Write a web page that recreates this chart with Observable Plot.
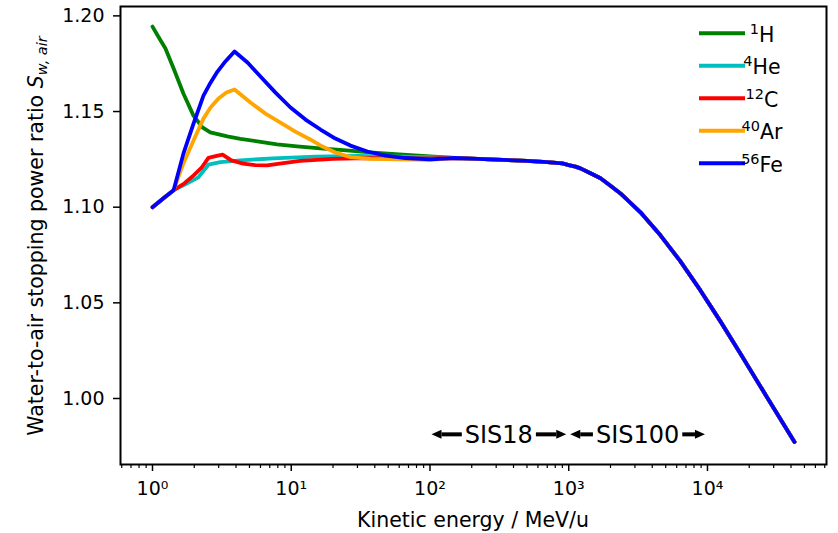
<!DOCTYPE html>
<html><head><meta charset="utf-8">
<script src="https://cdn.jsdelivr.net/npm/d3@7"></script>
<script src="https://cdn.jsdelivr.net/npm/@observablehq/plot@0.6"></script>
<style>body{margin:0;background:#fff} svg{display:block}</style>
</head><body><div id="chart"></div><script>
// ---- data ----
const ions = ["H", "He", "C", "Ar", "Fe"];
const massNumbers = ["1", "4", "12", "40", "56"];
const colors = ["#008000", "#00bfbf", "#ff0000", "#ffa500", "#0000ff"];

const E_H  = [1.0, 1.1, 1.24, 1.42, 1.67, 1.97, 2.29, 2.61, 3.46, 4.3, 5.7, 7.9, 11, 16.2, 25, 37, 60, 100];
const S_H  = [1.1944, 1.1892, 1.1829, 1.1725, 1.1594, 1.148, 1.1417, 1.1391, 1.137, 1.1357, 1.1344, 1.1328, 1.1318, 1.1307, 1.1297, 1.1286, 1.1276, 1.1265];
const E_He = [1, 1.2, 1.42, 1.78, 2.14, 2.53, 3.08, 4.3, 7.4, 15, 30, 100];
const S_He = [1.1, 1.1047, 1.1089, 1.1125, 1.1156, 1.1222, 1.1236, 1.1245, 1.1255, 1.1264, 1.1268, 1.1262];
const E_C  = [1, 1.2, 1.42, 1.7, 1.97, 2.25, 2.53, 2.9, 3.2, 3.7, 4.5, 5.5, 6.7, 8.5, 11.6, 20, 35, 100];
const S_C  = [1.1, 1.1047, 1.1089, 1.1125, 1.1165, 1.1205, 1.1258, 1.1268, 1.1275, 1.1245, 1.1228, 1.122, 1.1219, 1.1229, 1.1242, 1.1252, 1.1256, 1.1255];
const E_Ar = [1, 1.2, 1.42, 1.67, 1.975, 2.33, 2.62, 2.99, 3.41, 3.9, 5.08, 6.52, 8.36, 10.7, 13.7, 16.8, 20.8, 26.7, 37.2, 100];
const S_Ar = [1.100, 1.1047, 1.1089, 1.1229, 1.1349, 1.1463, 1.1521, 1.1568, 1.1599, 1.1615, 1.1547, 1.1489, 1.1442, 1.1395, 1.1354, 1.1317, 1.1286, 1.1262, 1.1252, 1.1248];
const E_Fe = [1, 1.2, 1.42, 1.67, 1.975, 2.33, 2.62, 2.94, 3.3, 3.9, 4.84, 6.0, 7.7, 9.88, 12.67, 16.25, 20.8, 26.7, 35.4, 47.8, 66.6, 100];
const S_Fe = [1.100, 1.1047, 1.1089, 1.128, 1.1437, 1.1583, 1.1651, 1.1709, 1.1756, 1.1814, 1.1756, 1.1683, 1.1599, 1.1521, 1.1458, 1.1406, 1.1359, 1.1322, 1.1291, 1.127, 1.1257, 1.1250];
// common high-energy part (all ions coincide)
const E_tail = [150, 200, 300, 500, 700, 900, 1000, 1118, 1215, 1435, 1694, 2000, 2360, 2787, 3289, 3882, 4583, 5410, 6386, 7538, 8898, 10500, 12400, 17300, 27000, 42400];
const S_tail = [1.1257, 1.1254, 1.1249, 1.1242, 1.1236, 1.1229, 1.1220, 1.1212, 1.1203, 1.1177, 1.1151, 1.1112, 1.1072, 1.1023, 1.0973, 1.0913, 1.0853, 1.0785, 1.0717, 1.0641, 1.0565, 1.0484, 1.0403, 1.0234, 1.0004, 0.9773];

const yTicks = [1.00, 1.05, 1.10, 1.15, 1.20];
const xMajor = [1, 10, 100, 1000, 10000];
const xMajorLabels = ["10⁰", "10¹", "10²", "10³", "10⁴"];
const xMinor = [];
for (let p = -1; p <= 4; p++) for (let m = 2; m <= 9; m++) { const v = m * Math.pow(10, p); if (v > 0.58 && v < 72000) xMinor.push(v); }

const ranges = ["SIS18", "SIS100"];
const rangeStart = [100, 1000];
const rangeEnd = [1000, 10000];
const rangeY = 0.981;

const lowE = [E_H, E_He, E_C, E_Ar, E_Fe];
const lowS = [S_H, S_He, S_C, S_Ar, S_Fe];
const series = ions.map((ion, i) => {
  const rows = lowE[i].map((e, j) => ({E: e, S: lowS[i][j], ion}));
  E_tail.forEach((e, j) => rows.push({E: e, S: S_tail[j], ion}));
  return rows;
});

const plot = Plot.plot({
  width: 838, height: 533,
  marginLeft: 120, marginRight: 12, marginTop: 6, marginBottom: 69,
  x: {type: "log", domain: [0.588, 72100]},
  y: {domain: [0.9655, 1.2049]},
  style: {fontFamily: "DejaVu Sans", background: "white", color: "black"},
  marks: [
    Plot.axisY({ticks: yTicks, tickFormat: d => d.toFixed(2), tickSize: 7, tickPadding: 9, fontSize: 19, label: null, strokeWidth: 1.5}),
    Plot.axisX({ticks: xMajor, tickFormat: d => xMajorLabels[xMajor.indexOf(d)], tickSize: 7, tickPadding: 10, fontSize: 19, label: null, strokeWidth: 1.5}),
    Plot.axisX({ticks: xMinor, tickFormat: () => "", tickSize: 4, label: null, strokeWidth: 1.2}),
    ...series.map((rows, i) => Plot.line(rows, {x: "E", y: "S", stroke: colors[i], strokeWidth: 3.8, strokeLinejoin: "round", strokeLinecap: "round"})),
    Plot.frame({stroke: "black", strokeWidth: 2})
  ]
});
document.getElementById("chart").append(plot);

const svg = d3.select(plot);
const xs = v => plot.scale("x").apply(v);
const ys = v => plot.scale("y").apply(v);

// axis labels
svg.append("text")
  .attr("x", 473).attr("y", 527).attr("text-anchor", "middle")
  .attr("font-size", 20.5).attr("font-family", "DejaVu Sans").attr("fill", "black")
  .text("Kinetic energy / MeV/u");
const yl = svg.append("text")
  .attr("transform", "translate(43,236) rotate(-90)").attr("text-anchor", "middle")
  .attr("font-size", 20.5).attr("font-family", "DejaVu Sans").attr("fill", "black");
yl.append("tspan").text("Water-to-air stopping power ratio ");
yl.append("tspan").attr("font-style", "italic").text("S");
yl.append("tspan").attr("font-style", "italic").attr("font-size", 14.5).attr("dy", 4).text("w, air");

// legend
const lg = svg.append("g").attr("font-family", "DejaVu Sans").attr("fill", "black");
ions.forEach((ion, i) => {
  const y = 33.3 + i * 32.5;
  lg.append("line").attr("x1", 699).attr("x2", 745).attr("y1", y).attr("y2", y)
    .attr("stroke", colors[i]).attr("stroke-width", 4);
  const t = lg.append("text").attr("x", 762).attr("y", y + 8.5).attr("font-size", 20.5);
  t.append("tspan").attr("font-size", 14.5).attr("dy", -8).text(massNumbers[i]);
  t.append("tspan").attr("dy", 8).text(ion);
});

// accelerator ranges
const ag = svg.append("g");
function arrow(tip, tail, y) {
  const dir = Math.sign(tip - tail);
  const base = tip - dir * 10;
  ag.append("line").attr("x1", tail).attr("x2", base).attr("y1", y).attr("y2", y)
    .attr("stroke", "black").attr("stroke-width", 4);
  ag.append("path").attr("d", `M${tip},${y}L${base},${y - 4.5}L${base},${y + 4.5}Z`).attr("fill", "black");
}
ranges.forEach((name, i) => {
  const x0 = xs(rangeStart[i]), x1 = xs(rangeEnd[i]);
  const cx = xs(Math.sqrt(rangeStart[i] * rangeEnd[i]));
  const y = ys(rangeY);
  const t = ag.append("text").attr("x", cx).attr("y", y + 8.7).attr("text-anchor", "middle")
    .attr("font-size", 24).attr("font-family", "DejaVu Sans").attr("fill", "black").text(name);
  const w = t.node().getComputedTextLength();
  arrow(x0 + 2, cx - w / 2 - 3, y);
  arrow(x1 - 2, cx + w / 2 + 3, y);
});
</script></body></html>
